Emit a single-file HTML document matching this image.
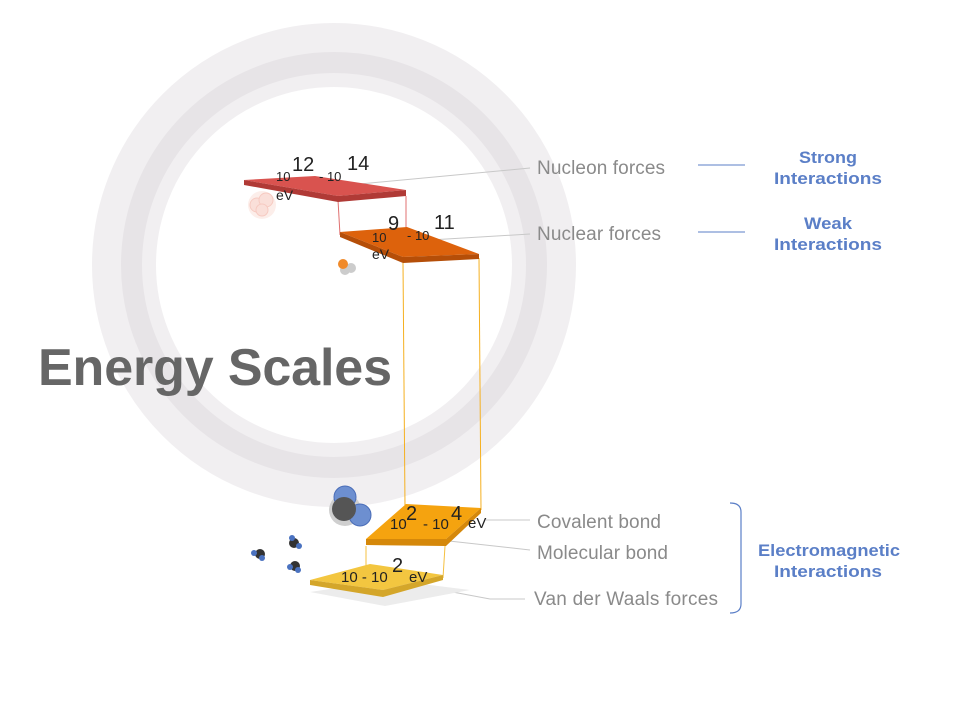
<!DOCTYPE html>
<html><head><meta charset="utf-8"><style>
html,body{margin:0;padding:0;background:#fff;}
svg{display:block;font-family:"Liberation Sans",sans-serif;}
</style></head><body>
<svg width="968" height="707" viewBox="0 0 968 707" xmlns="http://www.w3.org/2000/svg">
<!-- ring -->
<circle cx="334" cy="265" r="210" fill="none" stroke="#f1eff1" stroke-width="64"/>
<circle cx="334" cy="265" r="202.5" fill="none" stroke="#e7e4e7" stroke-width="21"/>
<!-- title -->
<text x="38" y="385" font-size="52" font-weight="bold" fill="#666" textLength="354">Energy Scales</text>

<!-- leader lines -->
<g stroke="#c8c8c8" stroke-width="1" fill="none">
<line x1="360" y1="184" x2="530" y2="168"/>
<line x1="430" y1="240" x2="530" y2="234"/>
<line x1="486" y1="520" x2="530" y2="520"/>
<line x1="440" y1="540" x2="530" y2="550"/>
<line x1="415" y1="585" x2="490" y2="599"/><line x1="490" y1="599" x2="525" y2="599"/>
</g>
<g stroke="#5b7fc7" stroke-width="1">
<line x1="698" y1="165" x2="745" y2="165"/>
<line x1="698" y1="232" x2="745" y2="232"/>
</g>
<path d="M730 503 Q741 503 741 512 L741 604 Q741 613 730 613" fill="none" stroke="#5b7fc7" stroke-width="1.2"/>

<!-- labels -->
<g font-size="19" fill="#8a8a8a">
<text x="537" y="174" textLength="128">Nucleon forces</text>
<text x="537" y="240" textLength="124">Nuclear forces</text>
<text x="537" y="528" textLength="124">Covalent bond</text>
<text x="537" y="559" textLength="131">Molecular bond</text>
<text x="534" y="605" textLength="184">Van der Waals forces</text>
</g>
<g font-size="17" font-weight="bold" fill="#5b7fc7" text-anchor="middle">
<text x="828" y="163" textLength="58" lengthAdjust="spacingAndGlyphs">Strong</text><text x="828" y="184" textLength="108" lengthAdjust="spacingAndGlyphs">Interactions</text>
<text x="828" y="229" textLength="48" lengthAdjust="spacingAndGlyphs">Weak</text><text x="828" y="250" textLength="108" lengthAdjust="spacingAndGlyphs">Interactions</text>
<text x="829" y="556" textLength="142" lengthAdjust="spacingAndGlyphs">Electromagnetic</text><text x="828" y="577" textLength="108" lengthAdjust="spacingAndGlyphs">Interactions</text>
</g>

<!-- vertical connectors -->
<g stroke-width="1" fill="none">
<line x1="338" y1="200" x2="340" y2="235" stroke="#e07070"/>
<line x1="406" y1="196" x2="406" y2="230" stroke="#e07070"/>
<line x1="403" y1="263" x2="405" y2="506" stroke="#f5b020"/>
<line x1="479" y1="258" x2="481" y2="510" stroke="#f5b020"/>
<line x1="366" y1="546" x2="366" y2="576" stroke="#f5c040"/>
<line x1="445" y1="546" x2="443" y2="578" stroke="#f5c040"/>
</g>

<!-- shadow under vdw -->
<polygon points="310,592 390,580 470,590 385,606" fill="#ececec"/>

<!-- plates -->
<polygon points="244,180 315,176 406,190 338,196" fill="#d9534f"/>
<polygon points="244,180 338,196 406,190 406,196 338,202 244,185" fill="#b03a36"/>

<polygon points="340,232 407,227 479,254 403,257" fill="#dd620c"/>
<polygon points="340,232 403,257 479,254 479,259 403,263 340,237" fill="#b54e08"/>

<polygon points="406,504 481,508 446,539 366,539" fill="#f5a30f"/>
<polygon points="366,539 446,539 481,508 481,513 446,546 366,545" fill="#d5880a"/>

<polygon points="310,580 370,564 443,575 383,590" fill="#f3c640"/>
<polygon points="310,580 383,590 443,575 443,580 383,597 310,585" fill="#d4a62a"/>

<!-- molecules -->
<g opacity="0.55" fill="#f6c5bb" stroke="#f0a090">
<circle cx="262" cy="205" r="14" fill="#fbe1da" stroke="none"/>
<circle cx="257" cy="205" r="7"/><circle cx="266" cy="200" r="7"/><circle cx="262" cy="210" r="6"/>
</g>
<circle cx="345" cy="270" r="5" fill="#ccc"/><circle cx="351" cy="268" r="5" fill="#ccc"/>
<circle cx="343" cy="264" r="5" fill="#f08a2a"/>
<circle cx="345" cy="510" r="16" fill="#cfcfcf"/>
<circle cx="345" cy="497" r="11" fill="#6d8fd0" stroke="#4a6db8"/>
<circle cx="360" cy="515" r="11" fill="#6d8fd0" stroke="#4a6db8"/>
<circle cx="344" cy="509" r="12" fill="#555"/>
<g fill="#333"><circle cx="294" cy="543" r="5"/><circle cx="260" cy="554" r="5"/><circle cx="295" cy="566" r="5"/></g>
<g fill="#4a72c0"><circle cx="292" cy="538" r="3"/><circle cx="299" cy="546" r="3"/><circle cx="254" cy="553" r="3"/><circle cx="262" cy="558" r="3"/><circle cx="290" cy="567" r="3"/><circle cx="298" cy="570" r="3"/></g>

<!-- plate labels -->
<g fill="#222">
<text x="276" y="181" font-size="13">10</text><text x="292" y="171" font-size="20">12</text>
<text x="319" y="181" font-size="13">- 10</text><text x="347" y="170" font-size="20">14</text>
<text x="276" y="200" font-size="14">eV</text>
<text x="372" y="242" font-size="13">10</text><text x="388" y="230" font-size="20">9</text>
<text x="407" y="240" font-size="13">- 10</text><text x="434" y="229" font-size="20">11</text>
<text x="372" y="259" font-size="14">eV</text>
<text x="390" y="529" font-size="15">10</text><text x="406" y="520" font-size="20">2</text>
<text x="423" y="529" font-size="15">- 10</text><text x="451" y="520" font-size="20">4</text>
<text x="468" y="528" font-size="15">eV</text>
<text x="341" y="582" font-size="15">10 - 10</text><text x="392" y="572" font-size="20">2</text>
<text x="409" y="582" font-size="15">eV</text>
</g>
</svg>
</body></html>
